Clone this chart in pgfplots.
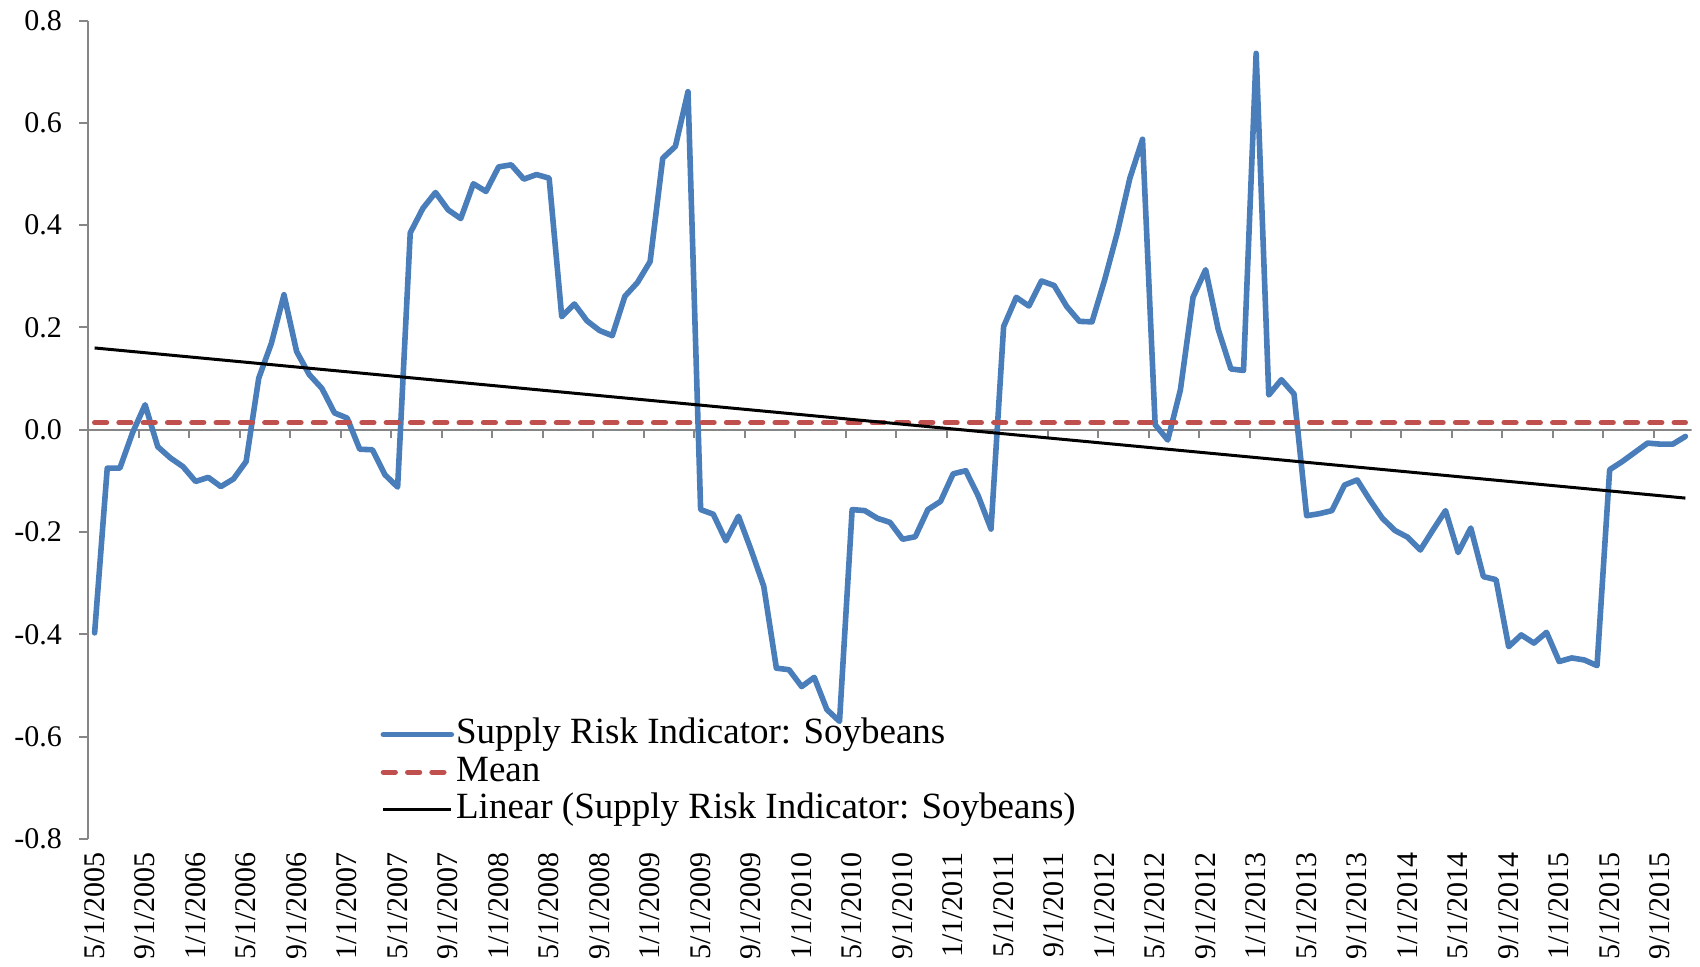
\documentclass[border=0pt]{standalone}
\usepackage{fontspec}
\setmainfont{Liberation Serif}
\usepackage{pgfplots}
\pgfplotsset{compat=1.18}
\usepackage{pgfplotstable}
\definecolor{srblue}{HTML}{4A7EBB}
\definecolor{srred}{HTML}{C0504D}
\definecolor{axgray}{HTML}{868686}

\pgfplotstableread{
i v
0 -0.397
1 -0.075
2 -0.075
3 -0.006
4 0.049
5 -0.033
6 -0.055
7 -0.072
8 -0.101
9 -0.093
10 -0.111
11 -0.096
12 -0.062
13 0.101
14 0.169
15 0.264
16 0.153
17 0.108
18 0.081
19 0.033
20 0.023
21 -0.038
22 -0.039
23 -0.088
24 -0.112
25 0.385
26 0.433
27 0.464
28 0.430
29 0.413
30 0.481
31 0.466
32 0.514
33 0.518
34 0.490
35 0.499
36 0.492
37 0.221
38 0.246
39 0.213
40 0.194
41 0.184
42 0.261
43 0.288
44 0.329
45 0.531
46 0.554
47 0.661
48 -0.156
49 -0.165
50 -0.217
51 -0.169
52 -0.235
53 -0.306
54 -0.466
55 -0.469
56 -0.502
57 -0.484
58 -0.547
59 -0.570
60 -0.156
61 -0.158
62 -0.173
63 -0.181
64 -0.214
65 -0.209
66 -0.156
67 -0.140
68 -0.086
69 -0.080
70 -0.130
71 -0.194
72 0.202
73 0.259
74 0.242
75 0.291
76 0.282
77 0.241
78 0.212
79 0.211
80 0.293
81 0.385
82 0.492
83 0.568
84 0.010
85 -0.020
86 0.078
87 0.259
88 0.313
89 0.196
90 0.119
91 0.116
92 0.736
93 0.068
94 0.098
95 0.070
96 -0.168
97 -0.164
98 -0.158
99 -0.108
100 -0.098
101 -0.137
102 -0.173
103 -0.197
104 -0.210
105 -0.235
106 -0.196
107 -0.158
108 -0.240
109 -0.192
110 -0.287
111 -0.293
112 -0.424
113 -0.401
114 -0.417
115 -0.396
116 -0.453
117 -0.446
118 -0.450
119 -0.461
120 -0.078
121 -0.062
122 -0.044
123 -0.026
124 -0.028
125 -0.028
126 -0.013
}\sridata

\begin{document}
\begin{tikzpicture}
\useasboundingbox (-44.15pt,-63.5pt) rectangle (805.85pt,419.5pt);
\begin{axis}[
  at={(0,0)}, anchor=south west,
  scale only axis, width=801.7pt, height=409.2pt,
  xmin=-0.5, xmax=126.5, ymin=-0.8, ymax=0.8,
  axis lines*=left,
  x axis line style={draw=none},
  y axis line style={axgray, line width=1pt},
  tick align=outside,
  major tick length=4.5pt,
  xtick={0,4,...,124},
  xticklabels={5/1/2005,9/1/2005,1/1/2006,5/1/2006,9/1/2006,1/1/2007,5/1/2007,9/1/2007,1/1/2008,5/1/2008,9/1/2008,1/1/2009,5/1/2009,9/1/2009,1/1/2010,5/1/2010,9/1/2010,1/1/2011,5/1/2011,9/1/2011,1/1/2012,5/1/2012,9/1/2012,1/1/2013,5/1/2013,9/1/2013,1/1/2014,5/1/2014,9/1/2014,1/1/2015,5/1/2015,9/1/2015},
  xtick style={draw=none},
  xticklabel style={rotate=90, anchor=east, inner sep=2pt, font=\fontsize{15}{15}\selectfont},
  ytick={-0.8,-0.6,-0.4,-0.2,0,0.2,0.4,0.6,0.8},
  yticklabels={-0.8,-0.6,-0.4,-0.2,0.0,0.2,0.4,0.6,0.8},
  ytick style={axgray, line width=1pt},
  yticklabel style={inner xsep=8.5pt, font=\fontsize{15}{15}\selectfont},
  legend style={at={(rel axis cs:0.182,0.151)}, anchor=north west, draw=none, fill=none, inner sep=0pt,
    font=\fontsize{18.5}{18.5}\selectfont,
    nodes={inner sep=1pt, text height=12.8pt, text depth=4pt},
    row sep=0pt,
    /tikz/every odd column/.append style={column sep=0pt}},
  legend cell align=left,
  legend image code/.code={\draw[#1] (0pt,0pt) -- (34pt,0pt);},
]
\draw[axgray, line width=1pt] (axis cs:-0.5,0) -- (axis cs:126.5,0);
\foreach \t in {3.5,7.5,...,123.5}{
  \edef\temp{\noexpand\draw[axgray,line width=1pt] (axis cs:\t,0) -- ++(0pt,-4pt);}
  \temp
}
\addplot[srblue, line width=2.8pt, line join=round, line cap=round] table[x=i,y=v] {\sridata};
\addlegendentry{Supply Risk Indicator: Soybeans}
\addplot[srred, line width=2.6pt, line cap=round, dash pattern=on 6pt off 6.15pt] coordinates {(0,0.014) (126,0.014)};
\addlegendentry{Mean}
\addplot[black, line width=1.5pt] coordinates {(0,0.160) (126,-0.1335)};
\addlegendentry{Linear (Supply Risk Indicator: Soybeans)}
\end{axis}
\end{tikzpicture}
\end{document}
